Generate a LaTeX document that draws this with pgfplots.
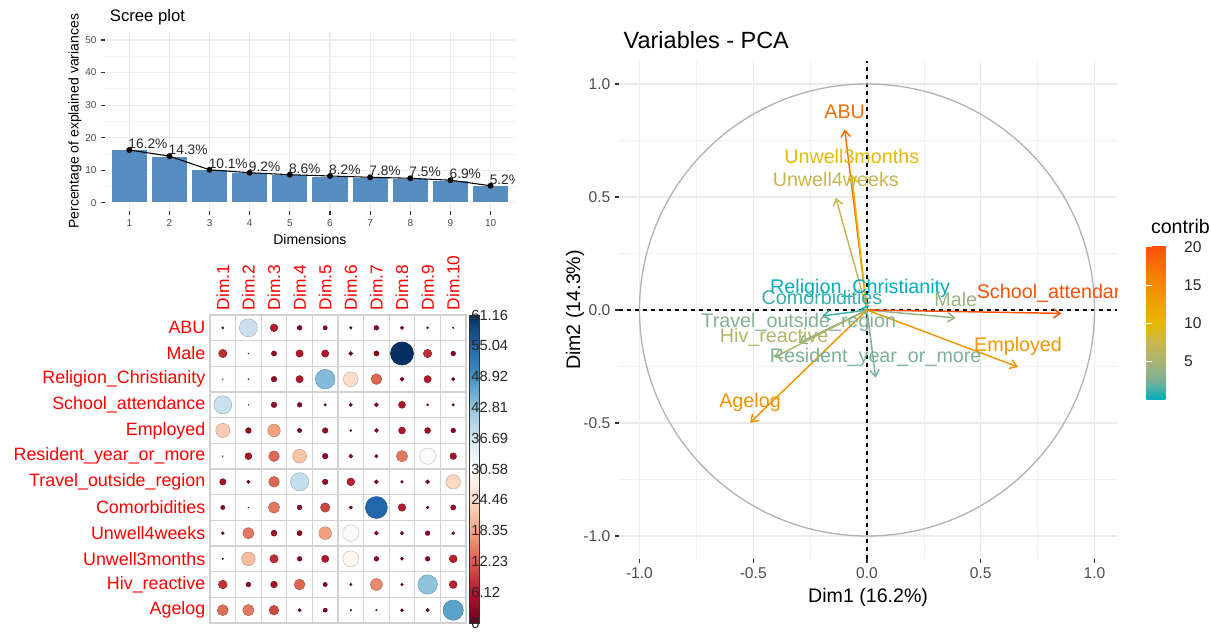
\documentclass[border=0pt]{standalone}
\usepackage{pgfplots}
\pgfplotsset{compat=1.18}
\usepackage{pgfplotstable}
\usepackage{fontspec}
\setmainfont{Liberation Sans}
\usetikzlibrary{arrows.meta}

\newcommand\fs[1]{\fontsize{#1}{#1}\selectfont}

\definecolor{txtgrey}{HTML}{4D4D4D}
\definecolor{tickdark}{HTML}{333333}
\definecolor{gridgrey}{HTML}{EBEBEB}
\definecolor{barblue}{RGB}{86,140,192}
\definecolor{cellgrey}{HTML}{D2D2D2}
\definecolor{circgrey}{HTML}{B3B3B3}

\pgfplotsset{
  colormap={rdbu}{rgb255(0cm)=(103,0,31); rgb255(1cm)=(178,24,43);
    rgb255(2cm)=(214,96,77); rgb255(3cm)=(244,165,130); rgb255(4cm)=(253,219,199);
    rgb255(5cm)=(255,255,255); rgb255(6cm)=(209,229,240); rgb255(7cm)=(146,197,222);
    rgb255(8cm)=(67,147,195); rgb255(9cm)=(33,102,172); rgb255(10cm)=(5,48,97)},
  % teal - yellow - red, interpolated as ggplot does (through Lab)
  colormap={contribmap}{rgb255(0cm)=(0,175,187); rgb255(1cm)=(123,177,152);
    rgb255(2cm)=(168,180,116); rgb255(3cm)=(203,182,77); rgb255(4cm)=(231,184,0);
    rgb255(5cm)=(238,162,0); rgb255(6cm)=(244,138,2); rgb255(7cm)=(249,112,4);
    rgb255(8cm)=(252,78,7)},
}

% scree plot: explained variance per dimension
\pgfplotstableread{
dim eig lab
1 16.2 16.2\%
2 14.3 14.3\%
3 10.1 10.1\%
4 9.2 9.2\%
5 8.6 8.6\%
6 8.2 8.2\%
7 7.8 7.8\%
8 7.5 7.5\%
9 6.9 6.9\%
10 5.2 5.2\%
}\scree

% contributions of variables to Dim.1..Dim.10 (c = dim, r = row, ABU on top)
\pgfplotstableread[row sep=\\]{
c r v\\
1 12 0.49\\ 2 12 37.30\\ 3 12 6.5\\ 4 12 2.5\\ 5 12 2.0\\ 6 12 0.8\\ 7 12 2.5\\ 8 12 1.2\\ 9 12 0.4\\ 10 12 0.2\\
1 11 7.82\\ 2 11 0.07\\ 3 11 3.0\\ 4 11 6.0\\ 5 11 6.0\\ 6 11 1.8\\ 7 11 3.0\\ 8 11 61.16\\ 9 11 8.0\\ 10 11 2.5\\
1 10 0.05\\ 2 10 0.10\\ 3 10 3.5\\ 4 10 6.0\\ 5 10 44.0\\ 6 10 25.0\\ 7 10 13.0\\ 8 10 1.8\\ 9 10 6.0\\ 10 10 1.2\\
1 9 37.51\\ 2 9 0.05\\ 3 9 3.5\\ 4 9 2.5\\ 5 9 0.7\\ 6 9 1.2\\ 7 9 1.8\\ 8 9 5.5\\ 9 9 0.5\\ 10 9 0.7\\
1 8 22.68\\ 2 8 3.70\\ 3 8 18.0\\ 4 8 2.0\\ 5 8 3.5\\ 6 8 0.4\\ 7 8 1.8\\ 8 8 5.5\\ 9 8 4.0\\ 10 8 2.5\\
1 7 0.07\\ 2 7 5.24\\ 3 7 13.0\\ 4 7 22.0\\ 5 7 3.5\\ 6 7 1.8\\ 7 7 1.2\\ 8 7 14.5\\ 9 7 30.0\\ 10 7 5.0\\
1 6 4.63\\ 2 6 1.24\\ 3 6 13.0\\ 4 6 38.0\\ 5 6 3.5\\ 6 6 7.0\\ 7 6 1.8\\ 8 6 0.8\\ 9 6 1.8\\ 10 6 24.0\\
1 5 2.02\\ 2 5 0.04\\ 3 5 14.5\\ 4 5 2.5\\ 5 5 10.0\\ 6 5 1.2\\ 7 5 55.0\\ 8 5 6.5\\ 9 5 0.8\\ 10 5 3.0\\
1 4 0.97\\ 2 4 14.39\\ 3 4 4.0\\ 4 4 3.0\\ 5 4 18.0\\ 6 4 31.5\\ 7 4 1.8\\ 8 4 1.2\\ 9 4 2.5\\ 10 4 1.0\\
1 3 0.23\\ 2 3 20.98\\ 3 3 8.0\\ 4 3 2.5\\ 5 3 6.0\\ 6 3 29.0\\ 7 3 2.5\\ 8 3 1.0\\ 9 3 2.5\\ 10 3 7.0\\
1 2 8.56\\ 2 2 2.57\\ 3 2 5.0\\ 4 2 13.0\\ 5 2 2.0\\ 6 2 0.6\\ 7 2 16.0\\ 8 2 0.6\\ 9 2 43.0\\ 10 2 7.0\\
1 1 13.59\\ 2 1 14.51\\ 3 1 10.5\\ 4 1 1.2\\ 5 1 2.0\\ 6 1 0.3\\ 7 1 0.3\\ 8 1 1.0\\ 9 1 1.5\\ 10 1 47.0\\
}\cp

% correlation circle: arrow tips and contribution to Dim1-2
\pgfplotstableread{
name x0 y0 dx dy contrib
ABU 0 0 -0.098 0.800 17.75
Unwell3months 0 0 -0.067 0.600 9.96
Unwell4weeks 0 0 -0.137 0.497 7.26
Religion\_Christianity 0 0 -0.030 0.005 0.02
Comorbidities 0 0 -0.198 -0.027 1.09
Male 0 0 0.390 -0.035 4.19
School\_attendance 0 0 0.854 -0.015 19.93
Travel\_outside\_region 0 0 -0.300 -0.146 3.04
Hiv\_reactive 0 0 -0.408 -0.210 5.75
Resident\_year\_or\_more 0 0 0.038 -0.300 2.50
Employed 0 0 0.664 -0.252 13.78
Agelog 0 0 -0.514 -0.499 14.02
}\pca

\newcommand\pcaname[1]{\pgfmathtruncatemacro\k{#1}\pgfplotstablegetelem{\k}{name}\of\pca\pgfplotsretval}

\begin{document}
\begin{tikzpicture}
\useasboundingbox (0,0) rectangle (908.25pt,481.5pt);

%% ---------------- scree plot ----------------
\begin{axis}[
  scale only axis, width=307.1pt, height=134.2pt,
  at={(78.9pt,323.4pt)}, anchor=south west,
  xmin=0.4, xmax=10.6, ymin=-2.5, ymax=52.5,
  xtick={1,2,3,4,5,6,7,8,9,10}, xticklabels={1,2,3,4,5,6,7,8,9,10},
  ytick={0,10,20,30,40,50}, yticklabels={0,10,20,30,40,50},
  minor ytick={5,15,25,35,45},
  xmajorgrids=true, ymajorgrids=true, yminorgrids=true,
  major grid style={gridgrey, line width=0.8pt},
  minor grid style={gridgrey!60, line width=0.45pt},
  axis line style={draw=none},
  tick pos=left, tick align=outside,
  major tick length=3pt, minor tick length=0pt,
  tick style={tickdark, line width=0.8pt},
  tick label style={font=\fs{7.5}, text=txtgrey},
  xlabel={Dimensions}, ylabel={Percentage of explained variances},
  every axis x label/.style={at={(axis description cs:0.5,0)}, anchor=center, yshift=-21.2pt, font=\fs{10.5}},
  every axis y label/.style={at={(axis description cs:0,0.5)}, xshift=-22.6pt, anchor=center, rotate=90, font=\fs{10.5}},
  title={Scree plot},
  every axis title/.style={at={(axis description cs:0,1)}, anchor=base west, yshift=7.7pt, font=\fs{12.5}},
  clip marker paths=true,
]
\addplot[ybar, bar width=0.9, fill=barblue, draw=white, line width=0.8pt] table[x=dim, y=eig]{\scree};
\addplot[black, line width=0.8pt, mark=*, mark size=1.8pt,
  point meta=explicit symbolic, nodes near coords,
  every node near coord/.append style={anchor=south west, inner sep=0.5pt, xshift=-1.5pt, font=\fs{10.3}, text=black!85}]
  table[x=dim, y=eig, meta=lab]{\scree};
\end{axis}

%% ---------------- contribution matrix ----------------
\begin{axis}[
  scale only axis, width=192pt, height=231pt,
  at={(157.5pt,14.25pt)}, anchor=south west,
  xmin=0.5, xmax=10.5, ymin=0.5, ymax=12.5,
  xtick={1,2,3,4,5,6,7,8,9,10},
  xticklabels={Dim.1,Dim.2,Dim.3,Dim.4,Dim.5,Dim.6,Dim.7,Dim.8,Dim.9,Dim.10},
  xticklabel pos=upper,
  xticklabel style={rotate=90, anchor=west, text=red, font=\fs{13}},
  ytick={1,2,3,4,5,6,7,8,9,10,11,12},
  yticklabels={Agelog,Hiv\_reactive,Unwell3months,Unwell4weeks,Comorbidities,
    Travel\_outside\_region,Resident\_year\_or\_more,Employed,School\_attendance,
    Religion\_Christianity,Male,ABU},
  yticklabel style={anchor=east, text=red, font=\fs{13.4}},
  minor xtick={0.5,1.5,...,10.5}, minor ytick={0.5,1.5,...,12.5},
  grid=minor, minor grid style={cellgrey, line width=1pt},
  axis line style={cellgrey, line width=1pt},
  major tick length=0pt, minor tick length=0pt,
  colormap name=rdbu, point meta min=0, point meta max=61.16,
  colorbar,
  colorbar style={
    scale only axis, width=7.5pt, height=231pt,
    at={(parent axis.north east)}, anchor=north west, xshift=-6pt,
    grid=none, minor tick num=0,
    ytick={0,6.12,12.23,18.35,24.46,30.58,36.69,42.81,48.92,55.04,61.16},
    yticklabels={0,6.12,12.23,18.35,24.46,30.58,36.69,42.81,48.92,55.04,61.16},
    yticklabel pos=right,
    yticklabel style={anchor=west, text=black!85, font=\fs{11}, xshift=-9.5pt},
    major tick length=0pt,
    axis line style={black!80, line width=0.6pt},
  },
]
\addplot[scatter, only marks, mark=*, point meta=\thisrow{v},
  visualization depends on={8.66*sqrt(\thisrow{v}/61.16) \as \rad},
  scatter/@pre marker code/.append style={/tikz/mark size=\rad}]
  table[x=c, y=r]{\cp};
\end{axis}

%% ---------------- variables - PCA ----------------
\begin{axis}[
  scale only axis, width=373.7pt, height=372.9pt,
  at={(464.25pt,62.55pt)}, anchor=south west,
  xmin=-1.09, xmax=1.10, ymin=-1.1, ymax=1.1,
  xtick={-1,-0.5,0,0.5,1}, xticklabels={-1.0,-0.5,0.0,0.5,1.0},
  ytick={-1,-0.5,0,0.5,1}, yticklabels={-1.0,-0.5,0.0,0.5,1.0},
  minor xtick={-0.75,-0.25,0.25,0.75}, minor ytick={-0.75,-0.25,0.25,0.75},
  grid=both,
  major grid style={gridgrey, line width=0.8pt},
  minor grid style={gridgrey!70, line width=0.5pt},
  axis line style={draw=none},
  tick pos=left, tick align=outside,
  major tick length=3pt, minor tick length=0pt,
  tick style={tickdark, line width=0.8pt},
  tick label style={font=\fs{11.7}, text=txtgrey},
  xlabel={Dim1 (16.2\%)}, ylabel={Dim2 (14.3\%)},
  every axis x label/.style={at={(axis description cs:0.5,0)}, anchor=center, yshift=-28.8pt, font=\fs{14.7}},
  every axis y label/.style={at={(axis description cs:0,0.5)}, xshift=-33pt, anchor=center, rotate=90, font=\fs{14.7}},
  title={Variables - PCA},
  every axis title/.style={at={(axis description cs:0,1)}, anchor=base west, yshift=9.3pt, font=\fs{17.6}},
  colormap name=contribmap, point meta min=0, point meta max=20.1,
  clip marker paths=true,
  colorbar,
  colorbar style={
    scale only axis, width=19pt, height=115.5pt,
    at={(parent axis.north east)}, anchor=north west, xshift=13.25pt, yshift=-138.45pt,
    grid=none, minor tick num=0,
    ytick={5,10,15,20}, yticklabels={5,10,15,20},
    yticklabel pos=right, ytick pos=both, tick align=inside,
    major tick length=4pt, tick style={white, line width=0.8pt},
    yticklabel style={anchor=west, text=black!85, font=\fs{11.7}, xshift=5.8pt},
    axis line style={draw=none},
    title={contrib},
    every axis title/.style={at={(axis description cs:0,1)}, anchor=base west, yshift=9pt, font=\fs{14.7}},
  },
]
\addplot[black, dashed, line width=1.1pt] coordinates {(-1.09,0) (1.10,0)};
\addplot[black, dashed, line width=1.1pt] coordinates {(0,-1.1) (0,1.1)};
\draw[circgrey, line width=1pt] (axis cs:0,0) ellipse [x radius=1, y radius=1];
\addplot[quiver={u=\thisrow{dx}, v=\thisrow{dy}, colored=mapped color},
  point meta=\thisrow{contrib},
  -{Straight Barb[length=5pt, width=7pt]}, line width=1.1pt]
  table[x=x0, y=y0]{\pca};
\addplot[scatter, only marks, mark=*, mark size=0pt,
  point meta=\thisrow{contrib},
  visualization depends on={\coordindex \as \idx},
  nodes near coords*={\pcaname{\idx}},
  every node near coord/.append style={anchor=south, inner sep=0pt, yshift=8pt, font=\fs{14.8}, text=mapped color}]
  table[x=dx, y=dy]{\pca};
\end{axis}
\end{tikzpicture}
\end{document}
